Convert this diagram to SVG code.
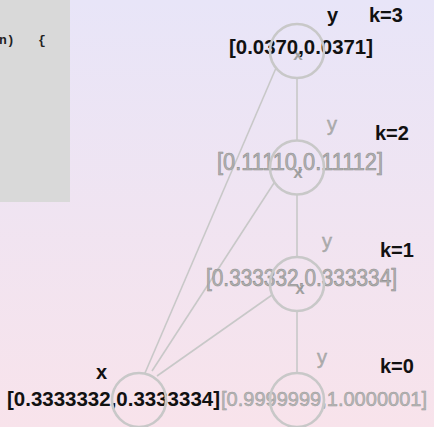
<svg xmlns="http://www.w3.org/2000/svg" width="434" height="427" viewBox="0 0 434 427">
  <defs>
    <linearGradient id="bg" x1="0" y1="0" x2="0" y2="1">
      <stop offset="0" stop-color="#e8e5f8"/>
      <stop offset="1" stop-color="#f8e3eb"/>
    </linearGradient>
    <style>
      .node { fill: none; stroke: #c8c8c8; stroke-width: 2.6; }
      .edge { stroke: #c8c8c8; stroke-width: 1.6; fill: none; }
      .lbl { font-family: "Liberation Sans", Arial, sans-serif; font-weight: bold; font-size: 20px; fill: #111; }
      .val { font-family: "Liberation Sans", Arial, sans-serif; font-weight: bold; font-size: 20px; fill: #111; }
      .gval { font-family: "Liberation Sans", Arial, sans-serif; font-size: 23px; fill: #b2b2b2; stroke: #8e8e8e; stroke-width: 0.6; }
      .gy { font-family: "Liberation Sans", Arial, sans-serif; font-size: 20px; fill: #b0b0b0; stroke: #999; stroke-width: 0.4; }
      .mark { font-family: "Liberation Sans", Arial, sans-serif; font-weight: bold; font-size: 17px; fill: #a0a0a0; text-anchor: middle; }
      .code { font-family: "Liberation Mono", "Courier New", monospace; font-weight: bold; font-size: 13px; fill: #222; white-space: pre; }
    </style>
  </defs>

  <rect width="434" height="427" fill="url(#bg)"/>

  <!-- code panel -->
  <g id="code-panel">
    <rect x="0" y="0" width="70" height="202" fill="#d9d9d9"/>
    <text class="code" x="-1" y="44" xml:space="preserve">n)   {</text>
  </g>

  <!-- connectors -->
  <g id="edges">
    <line class="edge" x1="145" y1="373" x2="276" y2="68"/>
    <line class="edge" x1="152" y1="371" x2="274" y2="183"/>
    <line class="edge" x1="157" y1="376" x2="272" y2="295"/>
    <line class="edge" x1="297" y1="78" x2="297" y2="140"/>
    <line class="edge" x1="297" y1="195" x2="297" y2="257"/>
    <line class="edge" x1="297" y1="311" x2="297" y2="373"/>
  </g>

  <!-- k=3 -->
  <g id="node-k3">
    <text class="mark" x="298" y="60">x</text>
    <text class="lbl" x="327" y="22">y</text>
    <text class="lbl" x="369" y="22">k=3</text>
    <text class="val" x="229" y="54" textLength="144" lengthAdjust="spacingAndGlyphs">[0.0370,0.0371]</text>
    <circle class="node" cx="297" cy="51" r="27"/>
  </g>

  <!-- k=2 -->
  <g id="node-k2">
    <text class="mark" x="298" y="178">x</text>
    <text class="gy" x="327" y="131">y</text>
    <text class="lbl" x="375" y="140">k=2</text>
    <text class="gval" x="217" y="170" textLength="166" lengthAdjust="spacingAndGlyphs">[0.11110,0.11112]</text>
    <circle class="node" cx="297" cy="167.5" r="27"/>
  </g>

  <!-- k=1 -->
  <g id="node-k1">
    <text class="mark" x="300" y="294">x</text>
    <text class="gy" x="322" y="248">y</text>
    <text class="lbl" x="380" y="257">k=1</text>
    <text class="gval" x="206" y="286" textLength="191" lengthAdjust="spacingAndGlyphs">[0.333332,0.333334]</text>
    <circle class="node" cx="297" cy="284" r="27"/>
  </g>

  <!-- k=0 -->
  <g id="node-k0">
    <text class="gy" x="317" y="364">y</text>
    <text class="lbl" x="380" y="373">k=0</text>
    <text class="val" x="221" y="406" textLength="206" lengthAdjust="spacingAndGlyphs" style="font-weight:normal;fill:#b8b8b8;stroke:#9a9a9a;stroke-width:0.5">[0.9999999,1.0000001]</text>
    <circle class="node" cx="297" cy="400" r="27"/>
  </g>

  <!-- input x -->
  <g id="node-x">
    <text class="lbl" x="96" y="379">x</text>
    <text class="val" x="7" y="406" textLength="213" lengthAdjust="spacingAndGlyphs">[0.3333332,0.3333334]</text>
    <circle class="node" cx="139" cy="400" r="27"/>
  </g>
</svg>
